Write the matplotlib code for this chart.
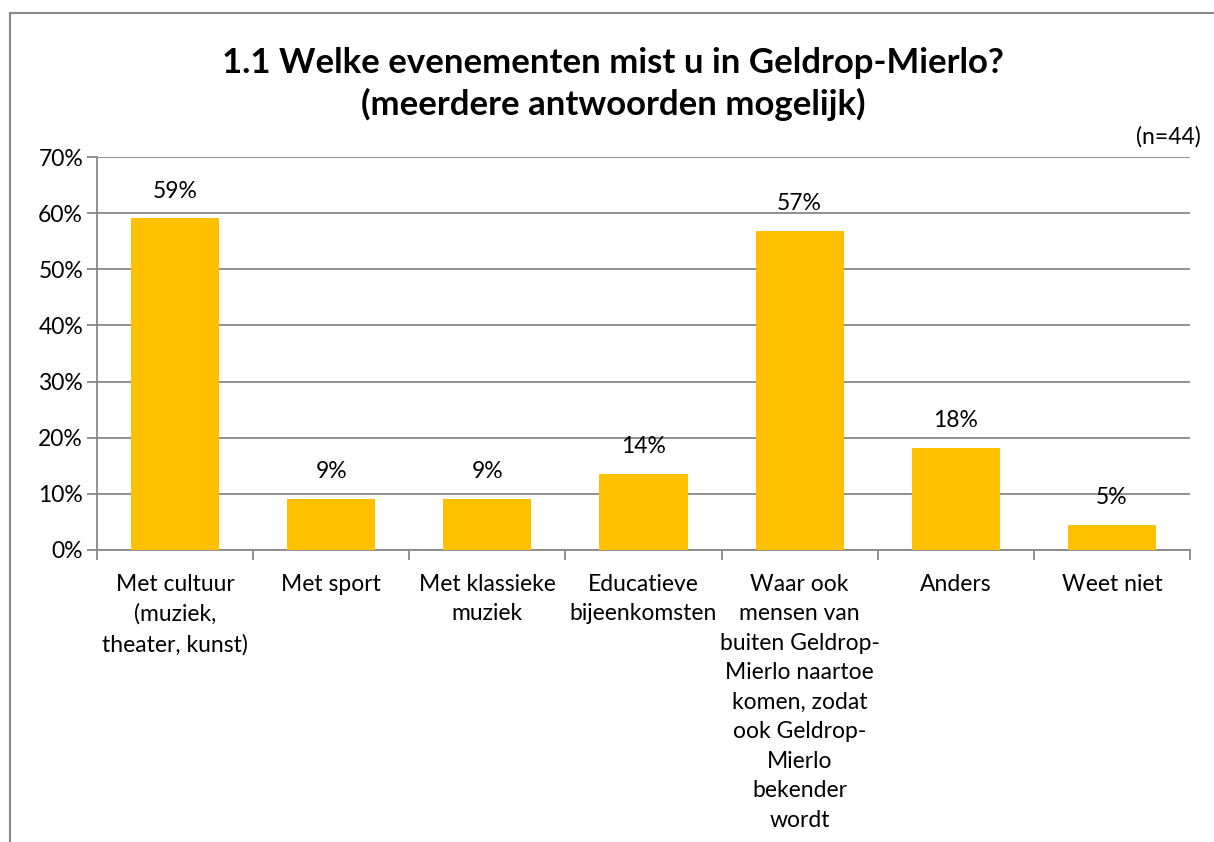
import matplotlib
matplotlib.use("Agg")
import matplotlib.pyplot as plt
from matplotlib.lines import Line2D

categories = [
    "Met cultuur\n(muziek,\ntheater, kunst)",
    "Met sport",
    "Met klassieke\nmuziek",
    "Educatieve\nbijeenkomsten",
    "Waar ook\nmensen van\nbuiten Geldrop-\nMierlo naartoe\nkomen, zodat\nook Geldrop-\nMierlo\nbekender\nwordt",
    "Anders",
    "Weet niet",
]
values = [59.1, 9.1, 9.1, 13.6, 56.8, 18.2, 4.5]
labels = ["59%", "9%", "9%", "14%", "57%", "18%", "5%"]
yticks = [0, 10, 20, 30, 40, 50, 60, 70]

plt.rcParams['font.family'] = ['Lato', 'DejaVu Sans']

W, H = 1214, 842
fig = plt.figure(figsize=(W / 100, H / 100), dpi=100)
fig.patch.set_facecolor("white")

# border (left and top visible)
fig.add_artist(Line2D([9.5 / W, 9.5 / W], [0, 1 - 12.5 / H], transform=fig.transFigure,
                      color="#888888", lw=1.5))
fig.add_artist(Line2D([9.5 / W, 1], [1 - 12.5 / H, 1 - 12.5 / H], transform=fig.transFigure,
                      color="#888888", lw=1.5))

left, right, bottom, top = 97, 1190, 550, 157
ax = fig.add_axes([left / W, 1 - bottom / H, (right - left) / W, (bottom - top) / H])
x = list(range(len(categories)))
ax.bar(x, values, width=0.565, color="#FFC000", zorder=3)
ax.set_xlim(-0.5, len(categories) - 0.5)
ax.set_ylim(0, 70)
ax.set_yticks(yticks)
ax.set_yticklabels([f"{t}%" for t in yticks], fontsize=16.5)
ax.yaxis.grid(True, color="#888888", lw=1.3, zorder=0)
ax.set_xticks(x)
ax.set_xticklabels(categories, fontsize=16.5, linespacing=1.5, va="top")
ax.tick_params(axis="x", length=0, pad=17)
ax.tick_params(axis="y", length=7, width=1.3, color="#888888", pad=3)
# minor ticks at category boundaries
ax.set_xticks([i - 0.5 for i in range(len(categories) + 1)], minor=True)
ax.tick_params(axis="x", which="minor", length=7, width=1.3, color="#888888")
for s in ["top", "right"]:
    ax.spines[s].set_visible(False)
for s in ["left", "bottom"]:
    ax.spines[s].set_color("#888888")
    ax.spines[s].set_linewidth(1.3)

for xi, v, lab in zip(x, values, labels):
    ax.annotate(lab, (xi, v), xytext=(0, 12), textcoords="offset points",
                ha="center", va="bottom", fontsize=16.5)

fig.text(613 / W, 1 - 84 / H, "1.1 Welke evenementen mist u in Geldrop-Mierlo?\n(meerdere antwoorden mogelijk)",
         ha="center", va="center", fontsize=25, fontweight="bold", linespacing=1.35)
fig.text(1201 / W, 1 - 137 / H, "(n=44)", ha="right", va="center", fontsize=16.5)

fig.savefig("out.png", dpi=100, facecolor="white")
